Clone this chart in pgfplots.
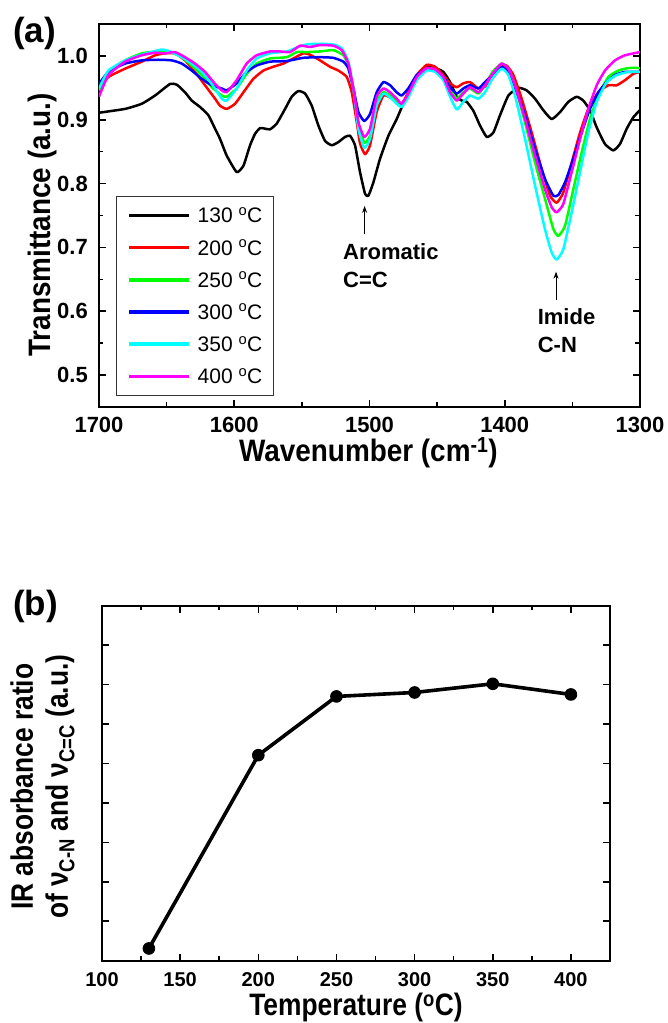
\documentclass[border=0pt]{standalone}
\usepackage{fontspec}
\setmainfont{Liberation Sans}
\newfontfamily\labfontA[FakeStretch=0.9]{Liberation Sans}
\newfontfamily\labfontB[FakeStretch=0.85]{Liberation Sans}
\usepackage{pgfplots}
\pgfplotsset{compat=1.18}
\usetikzlibrary{arrows.meta}

\definecolor{cRed}{RGB}{255,0,0}
\definecolor{cGreen}{RGB}{0,255,0}
\definecolor{cBlue}{RGB}{0,0,255}
\definecolor{cCyan}{RGB}{0,255,255}
\definecolor{cMag}{RGB}{255,0,255}

\pgfplotsset{myaxis/.style={
  scale only axis,
  axis line style={line width=2.4pt},
  every tick/.style={black, line width=1.6pt},
  tick align=inside,
  major tick length=7pt,
  minor tick length=4.5pt,
  /pgf/number format/assume math mode=true,
}}

\begin{document}
\begin{tikzpicture}
\useasboundingbox (0pt,0pt) rectangle (668pt,1023pt);

%================ (a) =================
\begin{axis}[myaxis, no markers,
  at={(99pt,616pt)}, anchor=south west,
  width=541pt, height=383pt,
  xmin=1300, xmax=1700, x dir=reverse,
  ymin=0.45, ymax=1.05,
  xtick={1300,1400,1500,1600,1700},
  minor xtick={1350,1450,1550,1650},
  ytick={0.5,0.6,0.7,0.8,0.9,1.0},
  minor ytick={0.45,0.55,0.65,0.75,0.85,0.95,1.05},
  tick label style={font=\bfseries\fontsize{22}{22}\selectfont},
  xticklabel style={/pgf/number format/1000 sep={}, inner sep=0pt, yshift=-10pt},
  yticklabel style={/pgf/number format/.cd, fixed, fixed zerofill, precision=1, /tikz/.cd, inner sep=0pt, xshift=-11pt},
  xlabel={Wavenumber (cm\textsuperscript{-1})},
  ylabel={Transmittance (a.u.)},
  label style={font=\labfontA\bfseries\fontsize{31}{31}\selectfont},
  xlabel style={at={(axis description cs:0.498,-0.143)}, anchor=base},
  ylabel style={at={(axis description cs:-0.105,0.475)}, anchor=center},
  legend style={at={(0.031,0.551)}, anchor=north west, draw=black!80, line width=0.8pt,
    font=\fontsize{21}{21}\selectfont, inner xsep=11pt, inner ysep=11.5pt,
    row sep=17.2pt, column sep=7pt,
    nodes={inner sep=0pt, text height=15pt, text depth=0pt}},
  legend cell align=left,
  legend image code/.code={\draw[#1, line width=3.5pt] (0pt,0pt) -- (60pt,0pt);},
]
\addplot[black, line width=2.5pt, smooth, tension=0.3, line join=round] coordinates {
(1700,0.911) (1680.7,0.917) (1668.4,0.925) (1658.5,0.938) (1647.5,0.956) (1642.5,0.955)
(1636.4,0.943) (1631.4,0.930) (1625.3,0.920) (1619.1,0.907) (1614.2,0.886) (1610.5,0.870)
(1605.6,0.844) (1598.2,0.818) (1593.2,0.828) (1588.3,0.860) (1584.6,0.878) (1580.9,0.887)
(1577.2,0.886) (1573.5,0.885) (1568.6,0.894) (1562.4,0.917) (1557.5,0.936) (1552.6,0.945)
(1547.6,0.941) (1542.7,0.922) (1537.8,0.891) (1532.9,0.867) (1527.9,0.860) (1523,0.865)
(1518.1,0.873) (1514.4,0.875) (1510.7,0.860) (1507,0.818) (1503.3,0.784) (1500.8,0.781)
(1497.1,0.802) (1492.2,0.839) (1486,0.875) (1479.9,0.901) (1475,0.925) (1470,0.943)
(1465.1,0.964) (1457.7,0.983) (1451.5,0.981) (1445.4,0.975) (1440.4,0.959) (1435.5,0.936)
(1431.8,0.930) (1428.1,0.928) (1423.2,0.914) (1418.3,0.891) (1413.3,0.873) (1408.4,0.880)
(1403.5,0.907) (1397.3,0.938) (1390,0.950) (1383.8,0.946) (1377.6,0.933) (1371.5,0.915)
(1365.3,0.901) (1359.1,0.912) (1353,0.928) (1346.8,0.936) (1341.9,0.930) (1337,0.915)
(1332,0.888) (1325.9,0.862) (1319.7,0.852) (1314.8,0.862) (1309.8,0.886) (1304.9,0.904)
(1300,0.915)};
\addlegendentry{130 \textsuperscript{o}C}
\addplot[cRed, line width=2.5pt, smooth, tension=0.3, line join=round] coordinates {
(1700,0.949) (1693,0.967) (1680.7,0.980) (1668.4,0.991) (1658.5,1.001) (1651.2,1.004)
(1643.8,1.004) (1636.4,0.993) (1629,0.975) (1621.6,0.954) (1614.2,0.933) (1610.5,0.922)
(1605.6,0.917) (1599.4,0.925) (1593.2,0.943) (1585.9,0.964) (1578.5,0.977) (1571.1,0.983)
(1563.7,0.988) (1556.3,0.996) (1548.9,1.004) (1544,1.002) (1536.6,0.993) (1529.2,0.983)
(1523,0.977) (1516.8,0.967) (1513.1,0.943) (1509.4,0.896) (1507,0.863) (1503.3,0.846)
(1499.6,0.860) (1494.7,0.912) (1489.7,0.938) (1484.8,0.935) (1479.9,0.930) (1476.2,0.925)
(1471.3,0.943) (1465.1,0.970) (1457.7,0.986) (1451.5,0.983) (1445.4,0.970) (1440.4,0.957)
(1435.5,0.951) (1430.6,0.957) (1425.7,0.959) (1419.5,0.949) (1414.6,0.952) (1409,0.965)
(1402.3,0.983) (1398.6,0.985) (1393.6,0.970) (1387.5,0.933) (1380.1,0.880) (1372.7,0.823)
(1366.5,0.781) (1361.6,0.770) (1356.7,0.786) (1350.5,0.833) (1344.3,0.880) (1338.2,0.917)
(1330.8,0.943) (1323.4,0.954) (1317.2,0.954) (1311.1,0.962) (1304.9,0.972) (1300,0.975)};
\addlegendentry{200 \textsuperscript{o}C}
\addplot[cGreen, line width=2.5pt, smooth, tension=0.3, line join=round] coordinates {
(1700,0.946) (1693,0.975) (1680.7,0.993) (1668.4,1.004) (1656.1,1.007) (1646.2,1.005)
(1638.8,0.998) (1631.4,0.985) (1624,0.970) (1616.6,0.951) (1609.2,0.938) (1605.6,0.936)
(1598.2,0.949) (1590.8,0.972) (1583.4,0.988) (1573.5,0.996) (1561.2,0.998) (1553.8,1.006)
(1546.4,1.006) (1536.6,1.007) (1526.7,1.009) (1519.3,1.001) (1515.6,0.985) (1511.9,0.949)
(1508.2,0.896) (1503.9,0.864) (1499.6,0.875) (1494.7,0.928) (1489.7,0.943) (1484.8,0.938)
(1479.9,0.928) (1476.2,0.922) (1471.3,0.938) (1465.1,0.964) (1457.7,0.980) (1451.5,0.977)
(1445.4,0.967) (1440.4,0.949) (1435.5,0.933) (1430.6,0.943) (1425.7,0.949) (1419.5,0.941)
(1414.6,0.954) (1409,0.975) (1402.3,0.988) (1397.3,0.980) (1392.4,0.954) (1385,0.896)
(1377.6,0.833) (1370.2,0.776) (1364.1,0.729) (1360.4,0.718) (1355.4,0.734) (1349.3,0.791)
(1343.1,0.849) (1337,0.901) (1330.8,0.938) (1323.4,0.967) (1316,0.977) (1308.6,0.981)
(1300,0.981)};
\addlegendentry{250 \textsuperscript{o}C}
\addplot[cBlue, line width=2.5pt, smooth, tension=0.3, line join=round] coordinates {
(1700,0.956) (1693,0.975) (1680.7,0.988) (1668.4,0.993) (1656.1,0.994) (1646.2,0.993)
(1638.8,0.988) (1631.4,0.977) (1624,0.964) (1616.6,0.954) (1609.2,0.949) (1605.6,0.946)
(1598.2,0.957) (1590.8,0.975) (1583.4,0.985) (1573.5,0.991) (1561.2,0.992) (1548.9,0.997)
(1536.6,0.998) (1526.7,0.997) (1519.3,0.991) (1515.6,0.980) (1511.9,0.949) (1508.2,0.912)
(1503.9,0.898) (1499.6,0.909) (1494.7,0.943) (1489.7,0.959) (1484.8,0.954) (1479.9,0.943)
(1476.2,0.938) (1471.3,0.949) (1465.1,0.970) (1457.7,0.980) (1451.5,0.977) (1445.4,0.967)
(1440.4,0.951) (1435.5,0.941) (1430.6,0.949) (1425.7,0.954) (1419.5,0.949) (1414.6,0.959)
(1409,0.970) (1402.3,0.983) (1397.3,0.975) (1392.4,0.951) (1385,0.907) (1377.6,0.854)
(1370.2,0.807) (1364.1,0.781) (1360.4,0.782) (1355.4,0.802) (1349.3,0.839) (1343.1,0.880)
(1337,0.917) (1330.8,0.943) (1324.6,0.959) (1318.5,0.970) (1311.1,0.975) (1300,0.975)};
\addlegendentry{300 \textsuperscript{o}C}
\addplot[cCyan, line width=2.5pt, smooth, tension=0.3, line join=round] coordinates {
(1700,0.949) (1693,0.977) (1680.7,0.993) (1668.4,1.002) (1653.6,1.010) (1646.2,1.006)
(1638.8,0.998) (1631.4,0.988) (1624,0.975) (1616.6,0.956) (1609.2,0.933) (1605.6,0.930)
(1598.2,0.949) (1590.8,0.977) (1583.4,0.996) (1573.5,1.004) (1561.2,1.007) (1553.8,1.013)
(1546.4,1.018) (1536.6,1.019) (1526.7,1.018) (1520.5,1.012) (1515.6,0.991) (1511.9,0.949)
(1508.2,0.886) (1503.9,0.856) (1499.6,0.870) (1494.7,0.922) (1489.7,0.941) (1484.8,0.935)
(1479.9,0.925) (1476.2,0.920) (1471.3,0.935) (1465.1,0.962) (1457.7,0.977) (1451.5,0.975)
(1445.4,0.962) (1440.4,0.936) (1435.5,0.916) (1430.6,0.928) (1425.7,0.938) (1419.5,0.933)
(1414.6,0.943) (1409,0.965) (1402.3,0.980) (1397.3,0.970) (1392.4,0.938) (1385,0.870)
(1377.6,0.797) (1370.2,0.728) (1365.3,0.692) (1361.6,0.681) (1356.7,0.697) (1350.5,0.755)
(1344.3,0.818) (1338.2,0.880) (1332,0.928) (1324.6,0.959) (1317.2,0.970) (1308.6,0.975)
(1300,0.975)};
\addlegendentry{350 \textsuperscript{o}C}
\addplot[cMag, line width=2.5pt, smooth, tension=0.3, line join=round] coordinates {
(1700,0.936) (1693,0.970) (1680.7,0.991) (1668.4,1.001) (1658.5,1.005) (1651.2,1.004)
(1643.8,1.006) (1636.4,0.998) (1629,0.988) (1621.6,0.975) (1614.2,0.956) (1609.2,0.946)
(1605.6,0.943) (1598.2,0.962) (1590.8,0.988) (1583.4,1.001) (1573.5,1.007) (1566.1,1.007)
(1558.7,1.006) (1551.3,1.016) (1544,1.014) (1536.6,1.017) (1526.7,1.016) (1520.5,1.009)
(1515.6,0.988) (1511.9,0.949) (1508.2,0.896) (1503.9,0.873) (1499.6,0.886) (1494.7,0.936)
(1489.7,0.949) (1484.8,0.943) (1479.9,0.933) (1476.2,0.925) (1471.3,0.941) (1465.1,0.967)
(1457.7,0.981) (1451.5,0.979) (1445.4,0.967) (1440.4,0.943) (1435.5,0.930) (1430.6,0.941)
(1425.7,0.951) (1419.5,0.943) (1414.6,0.954) (1409,0.972) (1402.3,0.988) (1397.3,0.980)
(1392.4,0.954) (1385,0.901) (1377.6,0.844) (1370.2,0.791) (1365.3,0.763) (1361.6,0.755)
(1356.7,0.768) (1350.5,0.818) (1344.3,0.870) (1338.2,0.917) (1332,0.954) (1325.9,0.977)
(1318.5,0.993) (1311.1,1.001) (1300,1.006)};
\addlegendentry{400 \textsuperscript{o}C}

\draw[line width=0.9pt, -{Stealth[length=7pt,width=5pt]}] (axis cs:1503.6,0.721) -- (axis cs:1503.6,0.765);
\draw[line width=0.9pt, -{Stealth[length=7pt,width=5pt]}] (axis cs:1362.1,0.618) -- (axis cs:1362.1,0.662);
\node[anchor=base west, inner sep=0pt, font=\bfseries\fontsize{22}{22}\selectfont] at (axis cs:1519.6,0.681) {Aromatic};
\node[anchor=base west, inner sep=0pt, font=\bfseries\fontsize{22}{22}\selectfont] at (axis cs:1519.6,0.637) {C=C};
\node[anchor=base west, inner sep=0pt, font=\bfseries\fontsize{22}{22}\selectfont] at (axis cs:1375.7,0.579) {Imide};
\node[anchor=base west, inner sep=0pt, font=\bfseries\fontsize{22}{22}\selectfont] at (axis cs:1375.7,0.535) {C-N};
\end{axis}

%================ (b) =================
\begin{axis}[myaxis,
  at={(102pt,62.3pt)}, anchor=south west,
  width=508pt, height=355pt,
  xmin=100, xmax=425, ymin=0, ymax=9,
  xtick={100,150,200,250,300,350,400},
  minor x tick num=1,
  ytick={0,1,2,3,4,5,6,7,8,9},
  yticklabels={},
  tick label style={font=\bfseries\fontsize{20}{20}\selectfont},
  xticklabel style={inner sep=0pt, yshift=-12pt},
  xlabel={Temperature (\textsuperscript{o}C)},
  ylabel={IR absorbance ratio\\of ν\textsubscript{C-N} and ν\textsubscript{C=C} (a.u.)},
  label style={font=\labfontB\bfseries\fontsize{31}{35}\selectfont},
  xlabel style={at={(axis description cs:0.5,-0.155)}, anchor=base},
  ylabel style={at={(axis description cs:-0.117,0.49)}, anchor=center, align=center},
]
\addplot[black, line width=3.6pt, line join=round, mark=*, mark size=5.8pt, mark options={solid, fill=black, line width=1pt}] coordinates {
(130,0.31) (200,5.21) (250,6.70) (300,6.80) (350,7.02) (400,6.75)};
\end{axis}

\node[anchor=base west, inner sep=0pt, font=\bfseries\fontsize{35}{35}\selectfont] at (13pt,980.5pt) {(a)};
\node[anchor=base west, inner sep=0pt, font=\bfseries\fontsize{35}{35}\selectfont] at (13pt,407pt) {(b)};
\end{tikzpicture}
\end{document}
